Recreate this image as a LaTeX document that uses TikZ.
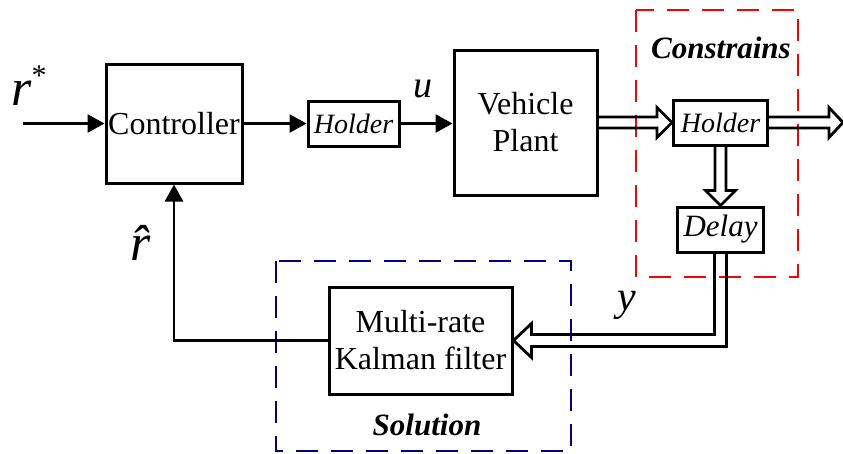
\documentclass[tikz,border=0pt]{standalone}
\usepackage{fontspec}
\setmainfont{Liberation Serif}
\usetikzlibrary{arrows.meta,calc}
\definecolor{cred}{RGB}{255,0,0}
\definecolor{cnavy}{RGB}{0,0,128}
\begin{document}
\begin{tikzpicture}[x=1pt,y=-1pt,
  blk/.style={draw,line width=3pt,inner sep=0pt,align=center,font=\fontsize{32}{35}\selectfont},
  sig/.style={line width=2.8pt,-{Triangle[length=17pt,width=18pt]}},
  barrow/.style={line width=2.8pt,line join=miter},
  region/.style={line width=2.6pt,dash pattern=on 22pt off 13pt},
  lbl/.style={inner sep=0pt,anchor=base west}]
\useasboundingbox (0,0) rectangle (843,453);
% dashed regions
\draw[region,cred] (636,10) rectangle (798,277);
\draw[region,cnavy] (276,261) rectangle (571,451);
\node[inner sep=0pt,font=\fontsize{31}{33}\selectfont\bfseries\itshape] (tcons) at (721,48) {Constrains};
\node[inner sep=0pt,font=\fontsize{31}{33}\selectfont\bfseries\itshape] (tsol) at (427,425) {Solution};
% blocks
\node[blk,minimum width=136pt,minimum height=119pt] (ctrl) at (174,123.5) {Controller};
\node[blk,minimum width=91pt,minimum height=45pt,font=\fontsize{28}{30}\selectfont\itshape] (hold1) at (353.5,123.5) {Holder};
\node[blk,minimum width=143pt,minimum height=145pt] (plant) at (525.5,122.5) {Vehicle\\[2pt]Plant};
\node[blk,minimum width=94pt,minimum height=45pt,font=\fontsize{28}{30}\selectfont\itshape] (hold2) at (720.5,122.5) {Holder};
\node[blk,minimum width=86pt,minimum height=45pt,font=\fontsize{31}{33}\selectfont\itshape] (delay) at (720.5,229.5) {Delay};
\node[blk,minimum width=183pt,minimum height=107pt] (kal) at (420.5,340.5) {Multi-rate\\[2pt]Kalman filter};
% coordinates
\coordinate (in) at (23,123.5);
\coordinate (out) at (843,122.5);
% plain signal arrows
\draw[sig] (in) -- (ctrl.west);
\draw[sig] (ctrl.east) -- (hold1.west);
\draw[sig] (hold1.east) -- (hold1.east -| plant.west);
\draw[sig] (kal.west) -| (ctrl.south);
% block arrows
\draw[barrow] ($(plant.east)+(0,-5.5)$) -- ($(hold2.west)+(-15,-5.5)$) -- ++(0,-9.5) -- (hold2.west)
  -- ($(hold2.west)+(-15,15)$) -- ++(0,-9.5) -- ($(plant.east)+(0,5.5)$);
\draw[barrow] ($(hold2.east)+(0,-5.5)$) -- ($(out)+(-14,-5.5)$) -- ++(0,-9.5) -- (out)
  -- ($(out)+(-14,15)$) -- ++(0,-9.5) -- ($(hold2.east)+(0,5.5)$);
\draw[barrow] ($(hold2.south)+(-5.5,0)$) -- ($(delay.north)+(-5.5,-15)$) -- ++(-9.5,0) -- (delay.north)
  -- ($(delay.north)+(15,-15)$) -- ++(-9.5,0) -- ($(hold2.south)+(5.5,0)$);
\draw[barrow] ($(delay.south)+(6,0)$) |- ($(kal.east)+(18,6)$) -- ++(0,11) -- (kal.east)
  -- ($(kal.east)+(18,-17)$) -- ++(0,11) -| ($(delay.south)+(-6,0)$);
% labels
\node[lbl,font=\fontsize{52}{52}\selectfont] (rstar) at (11,105) {\textit{r}\raisebox{20pt}{\fontsize{30}{30}\selectfont *}};
\node[lbl,font=\fontsize{38}{38}\selectfont] (ulab) at (413,97) {\textit{u}};
\node[lbl,font=\fontsize{52}{52}\selectfont] (rhat) at (130,260) {\textit{\^{r}}};
\node[lbl,font=\fontsize{42}{42}\selectfont] (ylab) at (617,310) {\textit{y}};
\end{tikzpicture}
\end{document}
